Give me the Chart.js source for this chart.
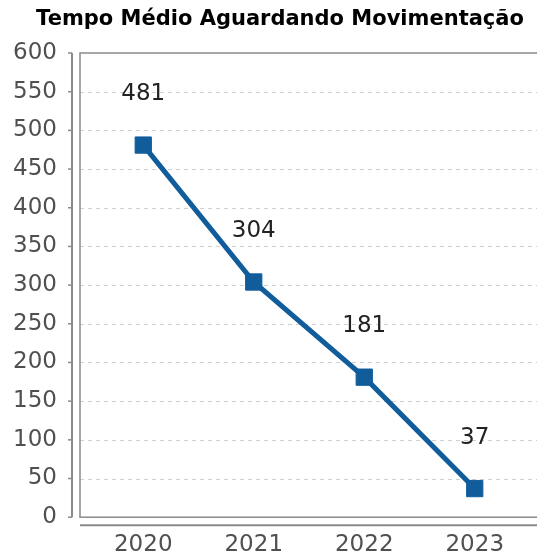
<!DOCTYPE html>
<html lang="pt">
<head>
    <meta charset="UTF-8">
    <title>Tempo Médio Aguardando Movimentação</title>
    <script src="https://cdn.jsdelivr.net/npm/chart.js"></script>
    <style>
        html, body {
            margin: 0;
            overflow: hidden;
            background: white;
            font-family: "DejaVu Sans", sans-serif;
        }
        #wrap {
            width: 537px;
            height: 562px;
        }
    </style>
</head>
<body>
    <div id="wrap"><canvas id="tempoChart"></canvas></div>

    <script>
        const titulo = 'Tempo Médio Aguardando Movimentação';
        const anos = ['2020', '2021', '2022', '2023'];
        const tempoMedio = [481, 304, 181, 37];
        const yMax = 600;
        const yStep = 50;

        // caixa do gráfico, eixos deslocados, linhas tracejadas e rótulos (estilo JFreeChart)
        const moldura = {
            id: 'moldura',
            beforeDatasetsDraw(chart) {
                const { ctx, chartArea, scales } = chart;
                const left = chartArea.left - 8;
                const right = chart.width;
                const y = scales.y;
                ctx.save();
                ctx.fillStyle = '#000';
                ctx.font = 'bold 21px "DejaVu Sans"';
                ctx.textAlign = 'center';
                ctx.textBaseline = 'middle';
                ctx.fillText(titulo, 280, 20);

                ctx.strokeStyle = '#d0d0d0';
                ctx.lineWidth = 1;
                ctx.setLineDash([4, 4]);
                y.ticks.forEach(t => {
                    if (t.value === 0 || t.value === yMax) return;
                    const py = Math.round(y.getPixelForValue(t.value)) + 0.5;
                    ctx.beginPath();
                    ctx.moveTo(left, py);
                    ctx.lineTo(right, py);
                    ctx.stroke();
                });
                ctx.setLineDash([]);
                ctx.strokeStyle = '#8a8a8a';
                ctx.lineWidth = 1.5;
                const top = y.getPixelForValue(yMax);
                const bottom = y.getPixelForValue(0);
                ctx.strokeRect(left, top, right - left + 5, bottom - top);
                // eixo y
                ctx.lineWidth = 2;
                ctx.beginPath();
                ctx.moveTo(left - 8, top);
                ctx.lineTo(left - 8, bottom);
                ctx.stroke();
                ctx.lineWidth = 1.5;
                y.ticks.forEach(t => {
                    const py = y.getPixelForValue(t.value);
                    ctx.beginPath();
                    ctx.moveTo(left - 12, py);
                    ctx.lineTo(left - 8, py);
                    ctx.stroke();
                });
                // eixo x
                ctx.lineWidth = 2;
                ctx.beginPath();
                ctx.moveTo(left, bottom + 8);
                ctx.lineTo(right, bottom + 8);
                ctx.stroke();
                ctx.restore();
            },
            afterDatasetsDraw(chart) {
                const { ctx } = chart;
                const meta = chart.getDatasetMeta(0);
                ctx.save();
                ctx.fillStyle = '#222';
                ctx.font = '23px "DejaVu Sans"';
                ctx.textAlign = 'center';
                ctx.textBaseline = 'middle';
                meta.data.forEach((pt, i) => {
                    ctx.fillText(tempoMedio[i], pt.x, pt.y - 51);
                });
                ctx.restore();
            }
        };

        const ctx = document.getElementById('tempoChart').getContext('2d');
        new Chart(ctx, {
            type: 'line',
            data: {
                labels: anos,
                datasets: [{
                    data: tempoMedio,
                    borderColor: '#115d9c',
                    backgroundColor: '#115d9c',
                    borderWidth: 5,
                    pointStyle: 'rect',
                    pointRadius: 11.5,
                    pointBorderWidth: 1,
                    tension: 0
                }]
            },
            options: {
                responsive: true,
                maintainAspectRatio: false,
                animation: false,
                layout: {
                    autoPadding: false,
                    padding: { left: 0, right: 7, top: 53, bottom: 0 }
                },
                plugins: {
                    legend: { display: false },
                    tooltip: { enabled: false },
                    title: { display: false }
                },
                scales: {
                    x: {
                        offset: true,
                        grid: { display: false, drawTicks: false },
                        border: { display: false },
                        ticks: {
                            color: '#505050',
                            padding: 14,
                            font: { family: 'DejaVu Sans', size: 23 }
                        },
                        afterFit(scale) { scale.height = 41; }
                    },
                    y: {
                        min: 0,
                        max: yMax,
                        grid: { display: false, drawTicks: false },
                        border: { display: false },
                        ticks: {
                            stepSize: yStep,
                            color: '#505050',
                            padding: 31,
                            font: { family: 'DejaVu Sans', size: 23 }
                        },
                        afterFit(scale) { scale.width = 88; }
                    }
                }
            },
            plugins: [moldura]
        });
    </script>
</body>
</html>
